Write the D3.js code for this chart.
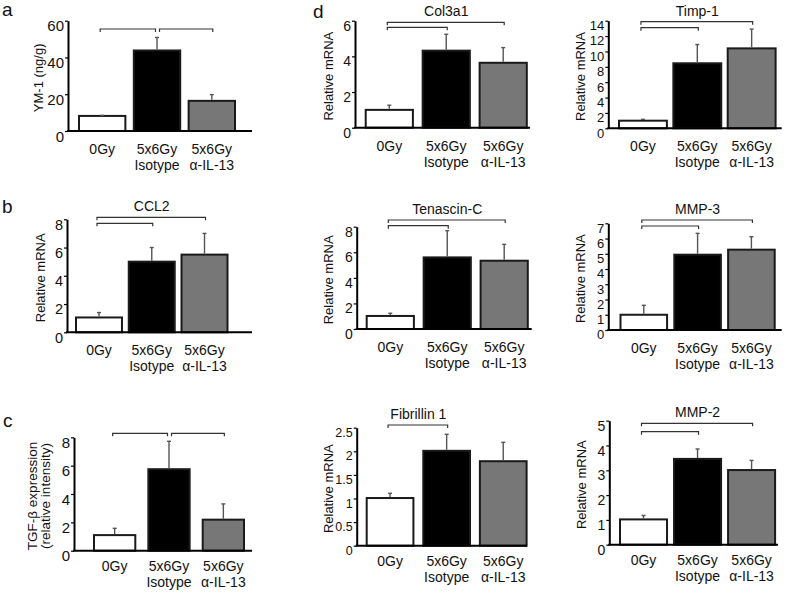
<!DOCTYPE html>
<html>
<head>
<meta charset="utf-8">
<script src="https://cdn.jsdelivr.net/npm/d3@7"></script>
<style>
  html, body { margin: 0; padding: 0; background: #fff; }
  svg { display: block; font-family: "Liberation Sans", Arial, sans-serif; }
</style>
</head>
<body>
<svg id="chart" width="787" height="592"></svg>
<script>
// ---------------- DATA ----------------
const groups = ["0Gy", "5x6Gy\nIsotype", "5x6Gy\nα-IL-13"];
const barFills = ["#ffffff", "#000000", "#777777"];

const ym1Mean = [8.2, 43.8, 16.4];
const ym1Err = [0.3, 7.1, 3.4];
const ym1Ticks = [0, 20, 40, 60];

const ccl2Mean = [1.05, 5.0, 5.5];
const ccl2Err = [0.35, 1.0, 1.5];
const ccl2Ticks = [0, 2, 4, 6, 8];

const tgfbMean = [1.1, 5.75, 2.19];
const tgfbErr = [0.48, 1.97, 1.11];
const tgfbTicks = [0, 2, 4, 6, 8];

const col3a1Mean = [1.0, 4.32, 3.64];
const col3a1Err = [0.26, 0.92, 0.85];
const col3a1Ticks = [0, 2, 4, 6];

const timp1Mean = [0.99, 8.46, 10.4];
const timp1Err = [0.18, 2.44, 2.5];
const timp1Ticks = [0, 2, 4, 6, 8, 10, 12, 14];

const tncMean = [1.02, 5.6, 5.34];
const tncErr = [0.21, 2.09, 1.28];
const tncTicks = [0, 2, 4, 6, 8];

const mmp3Mean = [1.0, 4.94, 5.27];
const mmp3Err = [0.62, 1.4, 0.85];
const mmp3Ticks = [0, 1, 2, 3, 4, 5, 6, 7];

const fbn1Mean = [1.01, 2.01, 1.79];
const fbn1Err = [0.1, 0.35, 0.4];
const fbn1Ticks = [0, 0.5, 1, 1.5, 2, 2.5];

const mmp2Mean = [1.02, 3.46, 3.01];
const mmp2Err = [0.16, 0.4, 0.39];
const mmp2Ticks = [0, 1, 2, 3, 4, 5];

const pairsAdjacent = [[0, 1], [1, 2]];
const pairsFromControl = [[0, 2], [0, 1]];
const pairsSingle = [[0, 1]];

// ---------------- PANELS (layout) ----------------
const rowTop = [23, 39], rowBottom = [20.5, 36.5];
const panels = [
  { mean: ym1Mean, err: ym1Err, ticks: ym1Ticks, title: null, ylab: ["YM-1 (ng/g)"], pairs: pairsAdjacent,
    L: 68, T: 20.7, B: 131, R: 252, x0: 79, step: 52, bw: 44, by: [29, 29], labOff: 25, tf: 15, cy: rowTop },
  { mean: ccl2Mean, err: ccl2Err, ticks: ccl2Ticks, title: "CCL2", ylab: ["Relative mRNA"], pairs: pairsFromControl,
    L: 67, T: 219.3, B: 332.3, R: 252, x0: 76, step: 50.5, bw: 44, by: [217.3, 223.3], labOff: 22.5, tf: 14.5, cy: rowTop },
  { mean: tgfbMean, err: tgfbErr, ticks: tgfbTicks, title: null, ylab: ["TGF-β expression", "(relative intensity)"], pairs: pairsAdjacent,
    L: 74, T: 437.3, B: 550.7, R: 252, x0: 94, step: 50, bw: 38, by: [433.3, 433.3], labOff: 24, tf: 15, cy: rowBottom },
  { mean: col3a1Mean, err: col3a1Err, ticks: col3a1Ticks, title: "Col3a1", ylab: ["Relative mRNA"], pairs: pairsFromControl,
    L: 355, T: 20.7, B: 127.7, R: 530, x0: 365.7, step: 53.7, bw: 44.5, by: [22.3, 27.3], labOff: 22, tf: 14, cy: rowTop },
  { mean: timp1Mean, err: timp1Err, ticks: timp1Ticks, title: "Timp-1", ylab: ["Relative mRNA"], pairs: pairsFromControl,
    L: 608.3, T: 20.7, B: 128.3, R: 781.7, x0: 619, step: 52.2, bw: 46, by: [21.7, 27.7], labOff: 23.5, tf: 13, cy: rowTop },
  { mean: tncMean, err: tncErr, ticks: tncTicks, title: "Tenascin-C", ylab: ["Relative mRNA"], pairs: pairsFromControl,
    L: 356.7, T: 226.7, B: 329, R: 531.7, x0: 366.7, step: 53.7, bw: 44.5, by: [220, 225.7], labOff: 23.5, tf: 14, cy: rowTop },
  { mean: mmp3Mean, err: mmp3Err, ticks: mmp3Ticks, title: "MMP-3", ylab: ["Relative mRNA"], pairs: pairsFromControl,
    L: 608.3, T: 223.3, B: 330, R: 781.7, x0: 620.5, step: 51.4, bw: 44.5, by: [220, 226], labOff: 23, tf: 13, cy: rowTop },
  { mean: fbn1Mean, err: fbn1Err, ticks: fbn1Ticks, title: "Fibrillin 1", ylab: ["Relative mRNA"], pairs: pairsSingle,
    L: 356.7, T: 427.7, B: 545.7, R: 527, x0: 366.7, step: 53.3, bw: 44, by: [425], labOff: 23.5, tf: 12.5, cy: rowBottom },
  { mean: mmp2Mean, err: mmp2Err, ticks: mmp2Ticks, title: "MMP-2", ylab: ["Relative mRNA"], pairs: pairsFromControl,
    L: 609.3, T: 420.7, B: 544.7, R: 778, x0: 620, step: 51.7, bw: 45, by: [423.3, 431.7], labOff: 23.5, tf: 14, cy: rowBottom }
];

const svg = d3.select("#chart");
const textColor = "#111";

function drawPanel(p) {
  const g = svg.append("g");
  const yMax = p.ticks[p.ticks.length - 1];
  const y = d3.scaleLinear().domain([0, yMax]).range([p.B, p.T]);
  const x = d3.scaleBand().domain(groups)
    .range([p.x0, p.x0 + p.step * groups.length])
    .paddingInner(1 - p.bw / p.step).paddingOuter(0).align(0);
  const bw = x.bandwidth();
  const cx = d => x(d) + bw / 2;

  // bars
  g.selectAll("rect.bar").data(groups).join("rect")
    .attr("class", "bar")
    .attr("x", d => x(d))
    .attr("y", (d, i) => y(p.mean[i]))
    .attr("width", bw)
    .attr("height", (d, i) => y(0) - y(p.mean[i]))
    .attr("fill", (d, i) => barFills[i])
    .attr("stroke", "#1a1a1a")
    .attr("stroke-width", 2);

  // error bars (upward only)
  const eg = g.selectAll("g.err").data(groups).join("g").attr("class", "err");
  eg.append("line")
    .attr("x1", cx).attr("x2", cx)
    .attr("y1", (d, i) => y(p.mean[i]) - 1)
    .attr("y2", (d, i) => y(p.mean[i] + p.err[i]))
    .attr("stroke", "#555").attr("stroke-width", 1.4);
  eg.append("line")
    .attr("x1", d => cx(d) - 2).attr("x2", d => cx(d) + 2)
    .attr("y1", (d, i) => y(p.mean[i] + p.err[i]))
    .attr("y2", (d, i) => y(p.mean[i] + p.err[i]))
    .attr("stroke", "#555").attr("stroke-width", 1.4);

  // y axis
  const yAxis = d3.axisLeft(y).tickValues(p.ticks).tickSize(3).tickSizeOuter(0).tickPadding(1)
    .tickFormat(d3.format(""));
  const ya = g.append("g").attr("transform", `translate(${p.L},0)`).call(yAxis);
  ya.attr("font-family", null).attr("font-size", null);
  ya.select(".domain").attr("stroke", "#000").attr("stroke-width", 2);
  ya.selectAll(".tick line").attr("stroke", "#000").attr("stroke-width", 1.2);
  ya.selectAll(".tick text").attr("font-size", p.tf).attr("fill", textColor).attr("dy", "0.68em");

  // x baseline
  g.append("line").attr("x1", p.L - 1).attr("x2", p.R).attr("y1", p.B).attr("y2", p.B)
    .attr("stroke", "#000").attr("stroke-width", 2);

  // category labels
  const lab = g.selectAll("text.cat").data(groups).join("text")
    .attr("class", "cat")
    .attr("text-anchor", "middle")
    .attr("font-size", 14)
    .attr("fill", textColor);
  lab.each(function (d) {
    const t = d3.select(this);
    d.split("\n").forEach((line, k) => {
      t.append("tspan").attr("x", cx(d)).attr("y", p.B + p.cy[k]).text(line);
    });
  });

  // y label
  const ymid = (p.T + p.B) / 2 + 2;
  const nl = p.ylab.length;
  p.ylab.forEach((txt, k) => {
    const bx = p.L - p.labOff - (nl - 1 - k) * 13;
    g.append("text")
      .attr("transform", `translate(${bx},${ymid}) rotate(-90)`)
      .attr("text-anchor", "middle")
      .attr("font-size", nl > 1 ? 13.5 : 13)
      .attr("fill", textColor)
      .text(txt);
  });

  // significance brackets
  const adjacent = p.pairs === pairsAdjacent;
  p.pairs.forEach((pr, k) => {
    let xa = cx(groups[pr[0]]) - 2;
    let xb = cx(groups[pr[1]]) + 1;
    if (adjacent) {
      if (k === 0) xb = cx(groups[pr[1]]) - 1.5;
      else xa = cx(groups[pr[0]]) + 2.5;
    }
    const by = p.by[k];
    g.append("path")
      .attr("d", `M${xa},${by + 3}V${by}H${xb}V${by + 3}`)
      .attr("fill", "none").attr("stroke", "#333").attr("stroke-width", 1.2);
  });

  // title
  if (p.title) {
    const tx = (cx(groups[p.pairs[0][0]]) + cx(groups[p.pairs[0][1]])) / 2;
    g.append("text")
      .attr("x", tx).attr("y", p.by[0] - 6)
      .attr("text-anchor", "middle")
      .attr("font-size", 14)
      .attr("fill", textColor)
      .text(p.title);
  }
}

panels.forEach(drawPanel);

// panel letters
const letters = [
  { t: "a", x: 2, y: 16 },
  { t: "b", x: 2, y: 213 },
  { t: "c", x: 3, y: 427 },
  { t: "d", x: 313, y: 18 }
];
svg.selectAll("text.letter").data(letters).join("text")
  .attr("class", "letter")
  .attr("x", d => d.x).attr("y", d => d.y)
  .attr("font-size", 19)
  .attr("fill", "#111")
  .text(d => d.t);
</script>
</body>
</html>
